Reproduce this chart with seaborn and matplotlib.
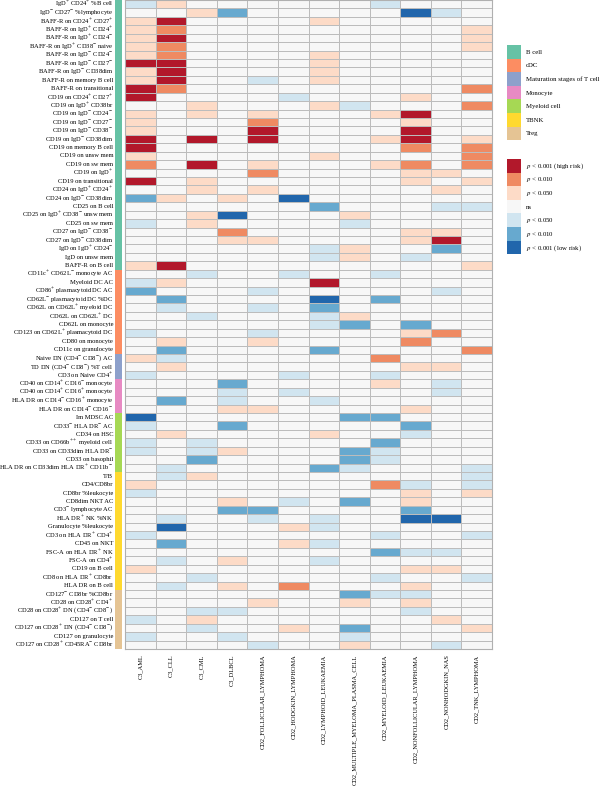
import numpy as np
import pandas as pd
import seaborn as sns
import matplotlib
matplotlib.use("Agg")
import matplotlib.pyplot as plt
from matplotlib.colors import ListedColormap
from matplotlib.patches import Patch

# ---------------- data ----------------
row_labels = [
    "IgD⁺ CD24⁺ %B cell", "IgD⁻ CD27⁻ %lymphocyte", "BAFF-R on CD24⁺ CD27⁺",
    "BAFF-R on IgD⁺ CD24⁺", "BAFF-R on IgD⁺ CD24⁻", "BAFF-R on IgD⁺ CD38⁻ naive",
    "BAFF-R on IgD⁻ CD24⁻", "BAFF-R on IgD⁻ CD27⁻", "BAFF-R on IgD⁻ CD38dim",
    "BAFF-R on memory B cell", "BAFF-R on transitional", "CD19 on CD24⁺ CD27⁺",
    "CD19 on IgD⁺ CD38br", "CD19 on IgD⁻ CD24⁻", "CD19 on IgD⁻ CD27⁻",
    "CD19 on IgD⁻ CD38⁻", "CD19 on IgD⁻ CD38dim", "CD19 on memory B cell",
    "CD19 on unsw mem", "CD19 on sw mem", "CD19 on IgD⁺", "CD19 on transitional",
    "CD24 on IgD⁺ CD24⁺", "CD24 on IgD⁻ CD38dim", "CD25 on B cell",
    "CD25 on IgD⁺ CD38⁻ unsw mem", "CD25 on sw mem", "CD27 on IgD⁻ CD38⁻",
    "CD27 on IgD⁻ CD38dim", "IgD on IgD⁺ CD24⁻", "IgD on unsw mem", "BAFF-R on B cell",
    "CD11c⁺ CD62L⁻ monocyte AC", "Myeloid DC AC", "CD86⁺ plasmacytoid DC AC",
    "CD62L⁻ plasmacytoid DC %DC", "CD62L on CD62L⁺ myeloid DC", "CD62L on CD62L⁺ DC",
    "CD62L on monocyte", "CD123 on CD62L⁺ plasmacytoid DC", "CD80 on monocyte",
    "CD11c on granulocyte",
    "Naive DN (CD4⁻ CD8⁻) AC", "TD DN (CD4⁻ CD8⁻) %T cell", "CD3 on Naive CD4⁺",
    "CD40 on CD14⁺ CD16⁻ monocyte", "CD40 on CD14⁺ CD16⁺ monocyte",
    "HLA DR on CD14⁻ CD16⁺ monocyte", "HLA DR on CD14⁻ CD16⁻",
    "Im MDSC AC", "CD33⁻ HLA DR⁻ AC", "CD34 on HSC", "CD33 on CD66b⁺⁺ myeloid cell",
    "CD33 on CD33dim HLA DR⁻", "CD33 on basophil", "HLA DR on CD33dim HLA DR⁺ CD11b⁻",
    "T/B", "CD4/CD8br", "CD8br %leukocyte", "CD8dim NKT AC", "CD3⁻ lymphocyte AC",
    "HLA DR⁺ NK %NK", "Granulocyte %leukocyte", "CD3 on HLA DR⁺ CD4⁺", "CD45 on NKT",
    "FSC-A on HLA DR⁺ NK", "FSC-A on CD4⁺", "CD19 on B cell", "CD8 on HLA DR⁺ CD8br",
    "HLA DR on B cell",
    "CD127⁻ CD8br %CD8br", "CD28 on CD28⁺ CD4⁺", "CD28 on CD28⁺ DN (CD4⁻ CD8⁻)",
    "CD127 on T cell", "CD127 on CD28⁺ DN (CD4⁻ CD8⁻)", "CD127 on granulocyte",
    "CD127 on CD28⁺ CD45RA⁻ CD8br",
]

group_names = ["B cell", "cDC", "Maturation stages of T cell", "Monocyte",
               "Myeloid cell", "TBNK", "Treg"]
group_sizes = [32, 10, 3, 4, 7, 14, 7]

columns = ["C3_AML", "C3_CLL", "C3_CML", "C3_DLBCL", "CD2_FOLLICULAR_LYMPHOMA",
           "CD2_HODGKIN_LYMPHOMA", "CD2_LYMPHOID_LEUKAEMIA",
           "CD2_MULTIPLE_MYELOMA_PLASMA_CELL", "CD2_MYELOID_LEUKAEMIA",
           "CD2_NONFOLLICULAR_LYMPHOMA", "CD2_NONHODGKIN_NAS", "CD2_TNK_LYMPHOMA"]

# significance level: +3 p<0.001 high risk ... 0 ns ... -3 p<0.001 low risk
c3_aml = [-1, 0, 1, 1, 1, 1, 1, 3, 1, 1,  3, 3, 0, 1, 1, 1, 3, 3, 1, 2,
          0, 3, 0, -2, 0, 0, -1, 0, 0, 0,  0, 1, 0, -1, -2, 0, 0, 0, 0, -1,
          0, 0, 1, 0, -1, 0, 0, 0, 0, -3,  -1, 0, -1, -1, 0, 0, 0, 1, -1, 0,
          0, 0, 0, -1, 0, 0, 0, 1, 0, 0,  0, 0, 0, -1, 0, -1, 0]
c3_cll = [1, 0, 3, 2, 3, 2, 2, 3, 3, 3,  2, 0, 0, 0, 0, 0, 0, 0, 0, 0,
          0, 0, 0, 1, 0, 0, 0, 0, 0, 0,  0, 3, 0, 1, 0, -2, -1, 0, 0, 0,
          1, -2, -1, 1, 0, 0, 0, -2, 0, 0,  0, 1, 0, 0, 0, -1, -1, 0, 0, 0,
          0, -1, -3, 0, -2, 0, -1, 0, 0, -1,  0, 0, 0, 0, 0, 0, 0]
c3_cml = [0, 1, 0, 0, 0, 0, 0, 0, 0, 0,  0, 0, 1, 1, 0, 0, 3, 0, 0, 3,
          0, 1, 1, 0, 0, 1, 1, 0, 0, 0,  0, 0, -1, 0, 0, 0, 0, -1, 0, 0,
          0, 0, 0, 0, 0, 0, 0, 0, 0, 0,  0, 0, -1, -1, -2, 0, 1, 0, 0, 0,
          0, 0, 0, 0, 0, 0, 0, 0, -1, 0,  0, 0, -1, 1, -1, 0, 0]
c3_dlbcl = [0, -2, 0, 0, 0, 0, 0, 0, 0, 0,  0, 0, 0, 0, 0, 0, 0, 0, 0, 0,
            0, 0, 0, 1, 0, -3, 0, 2, 1, 0,  0, 0, 0, 0, 0, 0, 0, 0, 0, 0,
            0, 0, 0, 0, 0, -2, -1, -1, 1, 0,  -2, 0, 0, 1, 0, 0, 0, 0, 0, 1,
            -2, 0, 0, 0, 0, 0, 1, 0, 0, 1,  0, 0, -1, 0, 0, -1, 0]
follicular = [0, 0, 0, 0, 0, 0, 0, 0, 0, -1,  0, 0, 0, 1, 2, 3, 3, 0, 0, 1,
              2, 0, 1, 0, 0, 0, 0, 0, 1, 0,  0, 0, 0, 0, -1, 0, -1, 0, 0, -1,
              1, 0, 0, 0, 0, 0, 0, 0, 1, 0,  0, 0, 0, 0, 0, 0, 0, 0, 0, 0,
              -2, -1, 0, 0, 0, 0, 0, 0, 0, 0,  0, 1, 0, 0, 0, 0, -1]
hodgkin = [0, 0, 0, 0, 0, 0, 0, 0, 0, 0,  0, -1, 0, 0, 0, 0, 0, 0, 0, 0,
           0, 0, 0, -3, 0, 0, 0, 0, 0, 0,  0, 0, -1, 0, 0, 0, 0, 0, 0, 0,
           0, 0, 0, 0, -1, 0, -1, 0, 0, 0,  0, 0, 0, 0, 0, 0, 0, 0, 0, -1,
           0, 0, 1, 0, 1, 0, 0, 0, 0, 2,  0, 0, 0, 0, 1, 0, 0]
lymphoid_leuk = [0, 0, 1, 0, 0, 0, 1, 1, 1, 1,  0, 0, 1, 0, 0, 0, 0, 0, 1, 0,
                 0, 0, 0, 0, -2, 0, 0, 0, 0, -1,  -1, 0, 0, 3, 0, -3, -2, -1, -1, 0,
                 0, -2, 0, 0, 0, 0, 0, -1, 0, 0,  0, 1, 0, 0, 0, -2, 0, 0, 0, 0,
                 0, -1, -1, 0, -1, 0, -1, 0, 0, 0,  0, 0, 0, 0, 0, 0, 0]
myeloma = [0, 0, 0, 0, 0, 0, 0, 0, 0, 0,  0, 0, -1, 0, 0, 0, 0, 0, 0, 0,
           0, 0, 0, 0, 0, 1, -1, 0, 0, 1,  1, 0, 0, 0, 0, 0, 0, 1, -2, 0,
           0, 0, 0, 0, 0, 0, 0, 0, 0, -2,  0, 0, 0, -2, -2, -1, 0, 0, 0, -2,
           0, 0, 0, 0, 0, 0, 0, 0, 0, 0,  -2, 1, 0, 0, -2, -1, 1]
myeloid_leuk = [-1, 0, 0, 0, 0, 0, 0, 0, 0, 0,  0, 0, 0, 1, 0, 0, 1, 0, 0, 1,
                0, 0, 0, 0, 0, 0, 0, 0, 0, 0,  0, 0, -1, 0, 0, -2, 0, 0, 0, 0,
                0, 0, 2, 0, -1, 1, 0, 0, 0, -2,  0, 0, -2, -1, -1, 0, 0, 2, 0, 0,
                0, 0, 0, -1, 0, -2, 0, 0, -1, 0,  -1, 0, 0, 0, 0, 0, 0]
nonfollicular = [0, -3, 0, 0, 0, 0, 0, 0, 0, 0,  0, 1, 0, 3, 1, 3, 3, 2, 0, 2,
                 1, 1, 0, 0, 0, 0, 0, 1, 1, 0,  -1, 0, 0, 0, 0, 0, 0, 0, -2, 1,
                 2, 0, 0, 1, 0, 0, 0, 0, 1, 0,  -2, -1, 0, 0, 0, 0, 0, -1, 1, 1,
                 -2, -3, 0, 0, 0, -1, 0, 1, 0, 1,  -1, 1, -1, 0, 0, 0, 0]
nonhodgkin_nas = [0, -1, 0, 0, 0, 0, 0, 0, 0, 0,  0, 0, 0, 0, 0, 0, 0, 0, 0, 0,
                  1, 0, 1, 0, -1, 0, 0, 1, 3, -2,  0, 0, 0, 0, -1, 0, 0, 0, 0, 2,
                  0, 0, 0, 1, 0, -1, -1, 0, 0, 0,  0, 0, 0, 0, 0, 0, 0, 0, 0, 0,
                  0, -3, 0, 0, 0, -1, 0, 1, 0, 0,  0, 0, 0, 1, 0, 0, -1]
tnk = [0, 0, 0, 1, 1, 1, 0, 0, 0, 0,  2, 0, 2, 0, 0, 0, 1, 2, 2, 2,
       0, 1, 0, 0, -1, 0, 0, 0, 0, 0,  0, 1, 0, 0, 0, 0, 0, 0, 0, 0,
       0, 2, 0, 0, 0, 0, 0, 0, 0, 0,  0, 0, 0, 0, 0, -1, -1, -1, 1, 0,
       0, 0, 0, -1, 0, 0, 0, 0, -1, 0,  0, 0, 0, 0, 1, 0, 0]

level_labels = ["$p$ < 0.001 (high risk)", "$p$ < 0.010", "$p$ < 0.050", "ns",
                "$p$ < 0.050", "$p$ < 0.010", "$p$ < 0.001 (low risk)"]

# ---------------- styling ----------------
level_colors = ["#B2182B", "#EF8A62", "#FDDBC7", "#F7F7F7", "#D1E5F0", "#67A9CF", "#2166AC"]
group_colors = sns.color_palette("Set2", 7)

plt.rcParams["font.family"] = ["Liberation Serif", "DejaVu Serif"]
plt.rcParams["mathtext.fontset"] = "stix"


def fmt(s):
    return (s.replace("⁺⁺", "$^{++}$").replace("⁺", "$^{+}$").replace("⁻", "$^{-}$"))


data = pd.DataFrame(
    np.array([c3_aml, c3_cll, c3_cml, c3_dlbcl, follicular, hodgkin, lymphoid_leuk,
              myeloma, myeloid_leuk, nonfollicular, nonhodgkin_nas, tnk]).T,
    index=[fmt(r) for r in row_labels], columns=columns)

group_codes = np.repeat(np.arange(len(group_names)), group_sizes).reshape(-1, 1)

W, H = 600, 788
fig = plt.figure(figsize=(W / 100, H / 100), dpi=100)

hm_left, hm_right, hm_top, hm_bottom = 125, 492, 0, 649
ax = fig.add_axes([hm_left / W, 1 - hm_bottom / H, (hm_right - hm_left) / W,
                   (hm_bottom - hm_top) / H])
cmap = ListedColormap(level_colors[::-1])
sns.heatmap(data, ax=ax, cmap=cmap, vmin=-3.5, vmax=3.5, cbar=False,
            linewidths=0.5, linecolor="#bcbcbc",
            xticklabels=True, yticklabels=True)
ax.tick_params(axis="both", length=0)
ax.tick_params(axis="y", pad=8.5, labelsize=4.65)
ax.tick_params(axis="x", pad=4.0, labelsize=4.55)
plt.setp(ax.get_xticklabels(), rotation=90)
plt.setp(ax.get_yticklabels(), rotation=0)
ax.set_xlabel("")
ax.set_ylabel("")
for sp in ax.spines.values():
    sp.set_visible(True)
    sp.set_color("#b0b0b0")
    sp.set_linewidth(0.8)

# group colour strip
gax = fig.add_axes([115 / W, 1 - hm_bottom / H, 7 / W, (hm_bottom - hm_top) / H])
sns.heatmap(group_codes, ax=gax, cmap=ListedColormap(group_colors), vmin=-0.5,
            vmax=len(group_names) - 0.5, cbar=False, xticklabels=False,
            yticklabels=False, linewidths=0)
gax.set_axis_off()

# legends (patch size in px -> legend units)
fs = 4.9
step_pt = 13.6 * 72 / 100
hh = (step_pt / fs - 0.245) / 0.65
hl = 14 * 72 / 100 / fs
tp = 5 * 72 / 100 / fs
handles1 = [Patch(facecolor=c, edgecolor="none", label=n)
            for c, n in zip(group_colors, group_names)]
fig.legend(handles=handles1, loc="upper left",
           bbox_to_anchor=(507 / W, 1 - 45 / H), frameon=False,
           fontsize=fs, handlelength=hl, handleheight=hh,
           labelspacing=0, borderpad=0, handletextpad=tp, borderaxespad=0)
handles2 = [Patch(facecolor=c, edgecolor="none", label=l)
            for c, l in zip(level_colors, level_labels)]
fig.legend(handles=handles2, loc="upper left",
           bbox_to_anchor=(507 / W, 1 - 159 / H), frameon=False,
           fontsize=fs, handlelength=hl, handleheight=hh,
           labelspacing=0, borderpad=0, handletextpad=tp, borderaxespad=0)

fig.savefig("out.png", dpi=100)
